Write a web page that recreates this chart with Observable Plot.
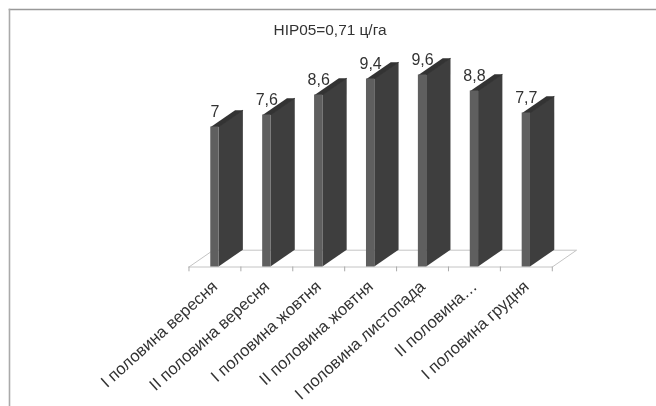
<!DOCTYPE html>
<html>
<head>
<meta charset="utf-8">
<style>
html,body{margin:0;padding:0;background:#fff}
svg{display:block;filter:blur(0.35px)}
</style>
<script src="https://cdn.jsdelivr.net/npm/d3@7"></script>
<script src="https://cdn.jsdelivr.net/npm/@observablehq/plot@0.6"></script>
</head>
<body>
<div id="chart"></div>
<script>
const categories = ["I половина вересня","II половина вересня","I половина жовтня","II половина жовтня","I половина листопада","II половина…","I половина грудня"];
const values = [7, 7.6, 8.6, 9.4, 9.6, 8.8, 7.7];
const valueLabels = ["7","7,6","8,6","9,4","9,6","8,8","7,7"];
const title = "HIP05=0,71 ц/га";

// Oblique projection of the 3D bars, in axis units
const depthX = 0.468, depthY = 0.84;
const barStart = 0.42, barEnd = 0.58;

const bars = categories.map((c, i) => ({c, i, v: values[i], label: valueLabels[i], x1: i + barStart, x2: i + barEnd}));
const sides = bars.flatMap(b => [
  {i: b.i, x: b.x2, y1: 0, y2: b.v},
  {i: b.i, x: b.x2 + depthX, y1: depthY, y2: b.v + depthY}
]);
const tops = bars.flatMap(b => [
  {i: b.i, x: b.x1, y: b.v},
  {i: b.i, x: b.x2, y: b.v},
  {i: b.i, x: b.x2 + depthX, y: b.v + depthY},
  {i: b.i, x: b.x1 + depthX, y: b.v + depthY},
  {i: b.i, x: b.x1, y: b.v}
]);
const n = categories.length;
const floor = [
  {x: 0, y: 0}, {x: n, y: 0}, {x: n + depthX, y: depthY}, {x: depthX, y: depthY}, {x: 0, y: 0}
];

const chart = Plot.plot({
  width: 656, height: 406,
  marginLeft: 9, marginTop: 9, marginRight: 0, marginBottom: 0,
  style: {fontFamily: "'Liberation Sans', Arial, sans-serif", background: "#fff", color: "#333"},
  x: {domain: [-3.458, 9.008], axis: null},
  y: {domain: [-6.975, 12.875], axis: null},
  marks: [
    Plot.frame({anchor: "top", stroke: "#999", strokeWidth: 1.6}),
    Plot.frame({anchor: "left", stroke: "#aaa", strokeWidth: 1.6}),
    Plot.line(floor, {x: "x", y: "y", stroke: "#c4c4c4", strokeWidth: 1}),
    Plot.ruleX(d3.range(n + 1), {y1: 0, y2: -0.24, stroke: "#aaa", strokeWidth: 1}),
    Plot.areaY(sides, {x: "x", y1: "y1", y2: "y2", z: "i", fill: "#3e3e3e", curve: "linear"}),
    Plot.line(tops, {x: "x", y: "y", z: "i", fill: "#333333", stroke: null}),
    Plot.rectY(bars, {x1: "x1", x2: "x2", y1: 0, y2: "v", fill: "#5f5f5f", inset: 0}),
    Plot.text(bars, {x: d => (d.x1 + d.x2) / 2, y: "v", text: "label", dy: -15, fontSize: 16, fill: "#333", lineAnchor: "middle"}),
    Plot.text(bars, {x: d => d.i + 0.5, y: 0, text: "c", rotate: -42, textAnchor: "end", lineAnchor: "middle", dy: 17, dx: 0, fontSize: 16.6, fill: "#333"}),
    Plot.text([title], {frameAnchor: "top", dx: -3, dy: 21, fontSize: 15.4, fill: "#333", lineAnchor: "middle"})
  ]
});
document.getElementById("chart").append(chart);
</script>
</body>
</html>
